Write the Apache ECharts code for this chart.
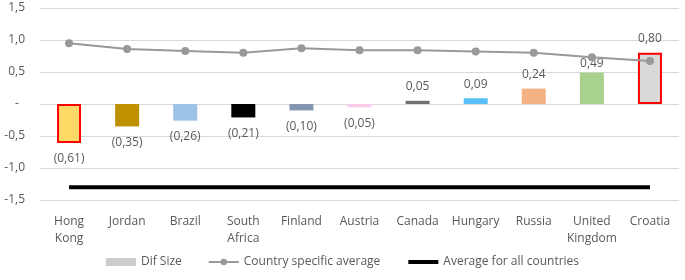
<!DOCTYPE html>
<html>
<head>
<meta charset="utf-8">
<script src="https://cdn.jsdelivr.net/npm/echarts@6/dist/echarts.min.js"></script>
<style>html,body{margin:0;padding:0;background:#fff}#c{width:685px;height:280px}</style>
</head>
<body>
<div id="c"></div>
<script>
var categories = ['Hong\nKong','Jordan','Brazil','South\nAfrica','Finland','Austria','Canada','Hungary','Russia','United\nKingdom','Croatia'];
var difSize = [-0.61,-0.35,-0.26,-0.21,-0.10,-0.05,0.05,0.09,0.24,0.49,0.80];
var countryAvg = [0.95,0.86,0.83,0.80,0.87,0.84,0.84,0.82,0.80,0.73,0.67];
var overallAvg = [-1.3,-1.3,-1.3,-1.3,-1.3,-1.3,-1.3,-1.3,-1.3,-1.3,-1.3];
var yTicks = [-1.5,-1.0,-0.5,0,0.5,1.0,1.5];

var barColors = ['#FFD966','#BF9000','#9DC3E6','#000000','#8497B0','#F8CBEA','#767171','#5BC0F8','#F4B183','#A9D18E','#D9D9D9'];
var barBorders = ['#FF0000',null,null,null,null,null,null,null,null,null,'#FF0000'];
var labelGaps = [10,10,10,10,10,10,8,8,8,3,8];

function fmt(v){
  var s = Math.abs(v).toFixed(2).replace('.',',');
  return v < 0 ? '(' + s + ')' : s;
}

var barData = difSize.map(function(v,i){
  return {
    value: v,
    itemStyle: {color: barColors[i], borderColor: barBorders[i] || barColors[i], borderWidth: barBorders[i] ? 2 : 0},
    label: {position: v < 0 ? 'bottom' : 'top', distance: labelGaps[i]}
  };
});

var chart = echarts.init(document.getElementById('c'), null, {renderer:'canvas'});
var txt = '#595959';
var font = 'Open Sans';
chart.setOption({
  animation: false,
  textStyle: {fontFamily: font},
  grid: {left: 40, right: 6, top: 8, bottom: 80},
  legend: {
    bottom: 7,
    left: 'center',
    itemGap: 26,
    itemWidth: 30,
    itemHeight: 8,
    textStyle: {color: txt, fontSize: 12, fontFamily: font},
    data: [
      {name: 'Dif Size', icon: 'rect', itemStyle: {color: '#CCCCCC', borderWidth: 0}},
      {name: 'Country specific average'},
      {name: 'Average for all countries', itemStyle: {opacity: 0}, lineStyle: {color: '#000000', width: 4}}
    ]
  },
  xAxis: {
    type: 'category',
    data: categories,
    axisLine: {show: false},
    axisTick: {show: false},
    axisLabel: {color: txt, fontSize: 12, fontFamily: font, margin: 13, lineHeight: 17, interval: 0}
  },
  yAxis: {
    type: 'value',
    min: yTicks[0], max: yTicks[yTicks.length-1], interval: 0.5,
    axisLine: {show: false},
    axisTick: {show: false},
    splitLine: {lineStyle: {color: '#D9D9D9', width: 1}},
    axisLabel: {
      color: txt, fontSize: 12, fontFamily: font, margin: 15,
      formatter: function(v){ return Math.abs(v) < 1e-9 ? '-  ' : v.toFixed(1).replace('.',','); }
    }
  },
  series: [
    {
      name: 'Dif Size', type: 'bar', barWidth: 24, data: barData, z: 2,
      label: {show: true, color: txt, fontSize: 12, fontFamily: font, formatter: function(p){ return fmt(p.value); }}
    },
    {
      name: 'Country specific average', type: 'line', data: countryAvg, z: 3,
      symbol: 'circle', symbolSize: 8,
      lineStyle: {color: '#999999', width: 2},
      itemStyle: {color: '#999999'}
    },
    {
      name: 'Average for all countries', type: 'line', data: overallAvg, z: 3,
      symbol: 'none',
      lineStyle: {color: '#000000', width: 4},
      itemStyle: {color: '#000000'}
    }
  ]
});
</script>
</body>
</html>
